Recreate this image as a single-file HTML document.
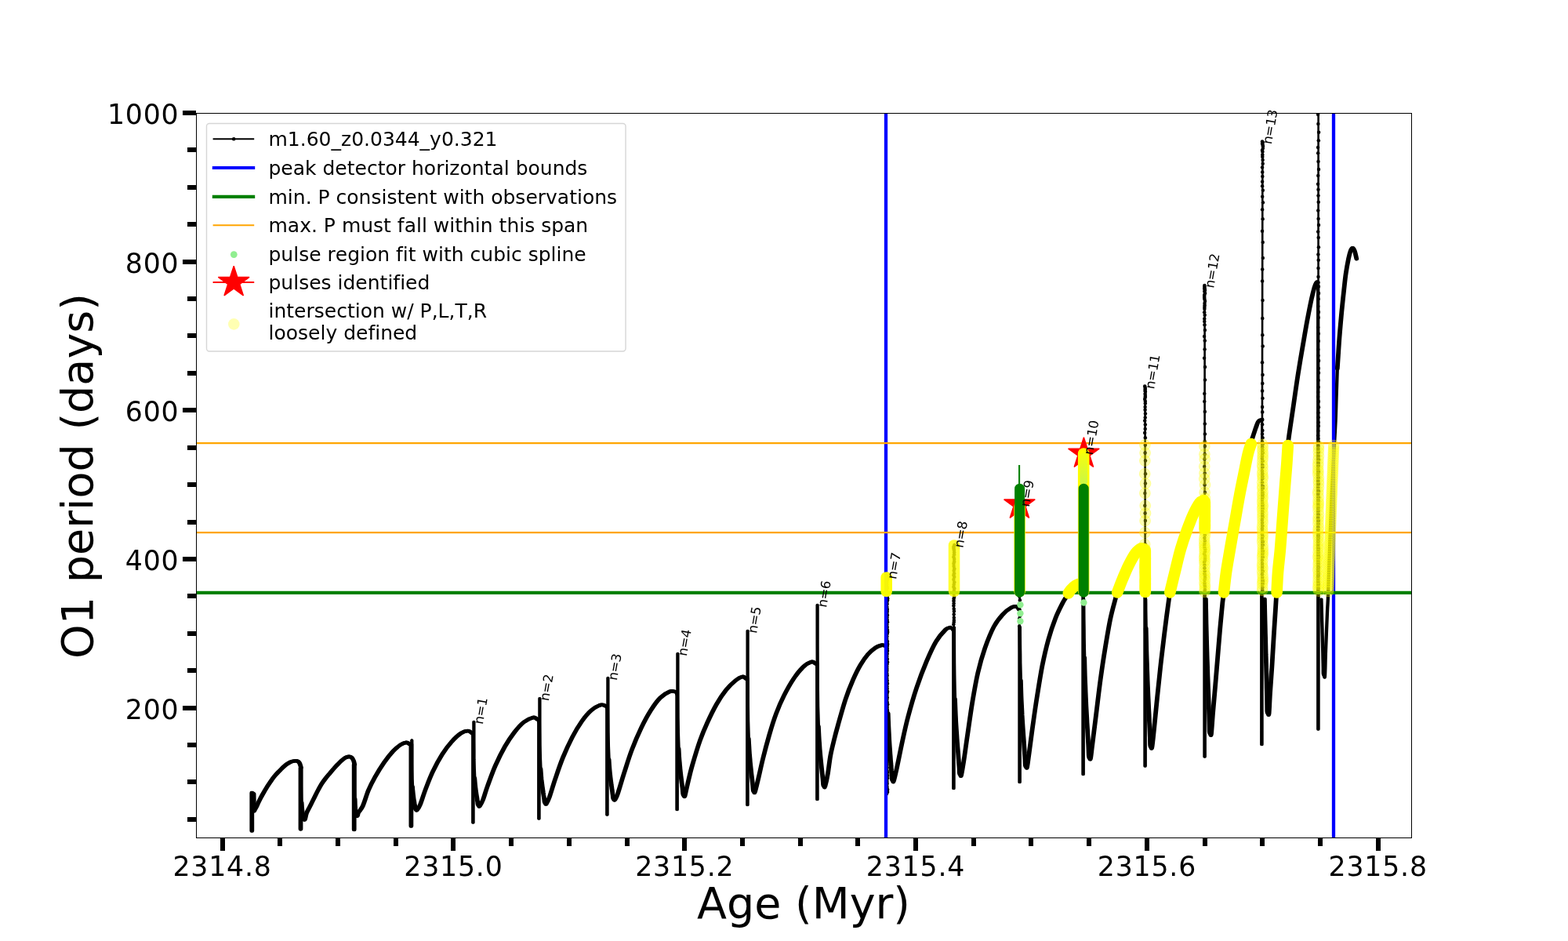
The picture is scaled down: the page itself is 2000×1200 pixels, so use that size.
<!DOCTYPE html>
<html lang="en"><head><meta charset="utf-8"><title>O1 period vs Age</title>
<style>html,body{margin:0;padding:0;background:#fff}body{width:2000px;height:1200px;overflow:hidden}svg{display:block}text{font-family:"DejaVu Sans","Liberation Sans",sans-serif;fill:#000;font-variant-ligatures:none;font-kerning:none}</style></head><body>
<svg width="2000" height="1200" viewBox="0 0 2000 1200">
<rect width="2000" height="1200" fill="#fff"/>
<defs><clipPath id="ax"><rect x="250" y="144" width="1550" height="924"/></clipPath>
<polygon id="star" points="0.00,-20.83 4.68,-6.44 19.81,-6.44 7.57,2.46 12.24,16.85 0.00,7.96 -12.24,16.85 -7.57,2.46 -19.81,-6.44 -4.68,-6.44" fill="#f00" stroke="#f00" stroke-width="1.39" stroke-linejoin="bevel"/>
<linearGradient id="lg" x1="0" y1="0" x2="0" y2="1"><stop offset="0" stop-color="#90ee90" stop-opacity="0.08"/><stop offset="1" stop-color="#90ee90" stop-opacity="0.5"/></linearGradient>
</defs>
<g clip-path="url(#ax)">
<g fill="none" stroke="#000" stroke-linejoin="round" stroke-linecap="round">
<path stroke-width="2.6" d="M384 979L383.5 985L383.5 1057.3L384.2 980M452.3 975L451.7 981L451.7 1058L452.4 975M522.4 948.9L524.4 954.9L524.4 1053.5L525.3 943.5M602 935L603.4 941L603.4 1049L604.4 920M685 917L687.4 923L687.4 1044L688.4 890.2M772 900L774.4 906L774.4 1039L775.4 864M861 882L863.6 888L863.6 1032.4L864.4 833M951 865L953.4 871L953.4 1026.4L953.6 804M1040 846L1042.4 852L1042.4 1019.4L1042.6 771M1128 823.2L1131.8 829.2L1131.8 1013L1131.7 735M1212 800.3L1216.4 806.3L1216.4 1005.4L1216.8 695M1299.6 777L1300.6 783L1300.6 997.5L1300.6 643.5M1380.5 746L1381.6 752L1381.6 987.4L1382 578.5M1459 700L1460.6 706L1460.6 977L1460.6 492.6M1535 637L1536.6 643L1536.6 965L1536.6 363.9M1609.5 535.5L1609.4 541.5L1609.4 949.6L1610.4 180.4M1681 360.3L1681.4 366.3L1681.4 930L1681.6 120"/>
<g id="tk" transform="translate(-0.55 0)"><path stroke-width="4.7" d="M321.3 1059.5L321.3 1011L323.6 1012.5L324 1033M324.3 1034C324.5 1033.7 324.9 1032.8 325.3 1032C325.8 1031.2 326.2 1030.6 327 1029C327.8 1027.4 328.7 1025.2 330 1022.5C331.3 1019.8 333.3 1016 335 1013C336.7 1010 338.3 1007.2 340 1004.5C341.7 1001.8 343.3 999.2 345 996.8C346.7 994.4 348.3 992 350 990C351.7 988 353.3 986.2 355 984.5C356.7 982.8 358.3 981.1 360 979.5C361.7 977.9 363.3 976.2 365 975C366.7 973.8 368.3 972.8 370 972C371.7 971.2 373.5 970.8 375 970.5C376.5 970.2 377.8 970.1 379 970.5C380.2 970.9 381.2 971.6 382 973C382.8 974.4 383.7 978 384 979M383.5 979L383.5 1057.3M384.6 1023.5C384.7 1024.1 384.8 1026.1 384.9 1027.1C384.9 1028 385 1028.6 385 1029.3C385.1 1030 385.1 1030.6 385.2 1031.2C385.3 1031.8 385.3 1032.3 385.4 1032.9C385.4 1033.4 385.5 1034 385.6 1034.5C385.6 1035 385.7 1035.5 385.7 1035.9C385.8 1036.4 385.9 1036.9 385.9 1037.4C386 1037.8 386 1038.3 386.1 1038.7C386.2 1039.2 386.2 1039.6 386.3 1040C386.3 1040.4 386.4 1040.9 386.4 1041.3C386.5 1041.7 386.4 1041.9 386.6 1042.5C386.8 1043.1 387.3 1044.3 387.7 1044.7C388.1 1045.1 388.4 1046 389 1044.7C389.6 1043.4 390 1039.6 391 1037C392 1034.4 393.5 1032 395 1029C396.5 1026 398.3 1022.3 400 1019C401.7 1015.7 403.3 1012.2 405 1009C406.7 1005.8 408.3 1002.7 410 1000C411.7 997.3 413.3 995.2 415 993C416.7 990.8 418.3 989 420 987C421.7 985 423.3 982.9 425 981C426.7 979.1 428.3 977.2 430 975.5C431.7 973.8 433.3 972 435 970.5C436.7 969 438.3 967.5 440 966.5C441.7 965.5 443.6 964.9 445 964.8C446.4 964.7 447.5 965.1 448.5 966C449.5 966.9 450.4 968.5 451 970C451.6 971.5 452.1 974.2 452.3 975M451.7 975L451.7 1058M452.6 1018.9C452.7 1019.5 452.7 1021.5 452.8 1022.5C452.8 1023.4 452.8 1024 452.8 1024.7C452.9 1025.4 452.9 1026 452.9 1026.6C453 1027.2 453 1027.7 453 1028.3C453.1 1028.9 453.1 1029.4 453.1 1029.9C453.2 1030.4 453.2 1030.9 453.2 1031.4C453.3 1031.9 453.3 1032.4 453.3 1032.8C453.4 1033.3 453.4 1033.7 453.4 1034.2C453.5 1034.6 453.5 1035.1 453.5 1035.5C453.5 1035.9 453.6 1036.3 453.6 1036.8C453.6 1037.2 453.5 1037.4 453.7 1038C453.9 1038.6 454.3 1039.8 454.7 1040.2C455.1 1040.6 455.6 1040.9 456 1040.2C456.4 1039.5 456.2 1038.1 457.3 1036C458.4 1033.9 460.8 1032.2 462.9 1027.5C465 1022.8 467.4 1013.8 470 1007.7C472.6 1001.6 475.2 996.6 478.5 990.7C481.8 984.8 486.1 977.7 489.9 972.3C493.7 966.9 497.7 961.9 501.2 958.1C504.7 954.3 508.3 951.5 511.1 949.6C513.9 947.7 516.3 946.9 518.2 946.8C520.1 946.7 521.7 948.5 522.4 948.9M524.4 948.9L524.4 1053.5M526.1 1003.5C526.1 1004.3 526.3 1007.1 526.5 1008.5C526.6 1009.9 526.7 1010.7 526.8 1011.7C526.9 1012.6 527 1013.5 527.1 1014.4C527.2 1015.2 527.3 1016 527.4 1016.8C527.5 1017.6 527.6 1018.3 527.7 1019C527.8 1019.8 527.9 1020.5 528.1 1021.2C528.2 1021.8 528.3 1022.5 528.4 1023.2C528.5 1023.8 528.6 1024.5 528.7 1025.1C528.8 1025.7 528.9 1026.3 529 1027C529.1 1027.6 529.2 1028.2 529.3 1028.8C529.4 1029.3 529.3 1029.8 529.6 1030.5C529.8 1031.2 530.3 1032.3 530.7 1032.7C531.1 1033.1 531.1 1033.8 532 1032.7C532.9 1031.6 534.2 1030.5 536 1026C537.8 1021.5 540.3 1013 543 1006C545.7 999 548.5 991.3 552 984C555.5 976.7 560 968.3 564 962C568 955.7 572 950.5 576 946C580 941.5 584.5 937.3 588 935C591.5 932.7 594.7 932 597 932C599.3 932 601.2 934.5 602 935M605.3 992.4C605.4 993.4 605.7 996.9 605.8 998.5C605.9 1000.2 606.1 1001.2 606.2 1002.4C606.3 1003.6 606.4 1004.7 606.6 1005.7C606.7 1006.8 606.8 1007.7 607 1008.7C607.1 1009.6 607.2 1010.6 607.4 1011.4C607.5 1012.3 607.6 1013.2 607.8 1014C607.9 1014.9 608 1015.7 608.2 1016.5C608.3 1017.3 608.4 1018.1 608.6 1018.9C608.7 1019.7 608.8 1020.4 608.9 1021.2C609.1 1021.9 609.2 1022.6 609.3 1023.4C609.4 1024.1 609.3 1024.8 609.6 1025.5C609.8 1026.2 610.3 1027.3 610.7 1027.7C611.1 1028.1 611.1 1029 612 1027.7C612.9 1026.4 614.3 1024.3 616 1020C617.7 1015.7 619.3 1009.3 622 1002C624.7 994.7 628.3 984.3 632 976C635.7 967.7 640 959 644 952C648 945 652 939.2 656 934C660 928.8 664 924.2 668 921C672 917.8 677.2 915.7 680 915C682.8 914.3 684.2 916.7 685 917M689.5 980.5C689.6 981.8 689.9 986.2 690.1 988.4C690.2 990.5 690.4 991.7 690.5 993.2C690.7 994.8 690.8 996.1 691 997.4C691.2 998.7 691.3 1000 691.5 1001.2C691.6 1002.4 691.8 1003.6 692 1004.7C692.1 1005.8 692.3 1006.9 692.4 1008C692.6 1009.1 692.8 1010.1 692.9 1011.1C693.1 1012.1 693.3 1013.1 693.4 1014.1C693.6 1015.1 693.7 1016.1 693.9 1017C694 1017.9 694.1 1018.9 694.3 1019.8C694.4 1020.7 694.4 1021.7 694.6 1022.5C694.8 1023.3 695.3 1024.3 695.7 1024.7C696.1 1025.1 696.1 1026.2 697 1024.7C697.9 1023.2 699.2 1021.1 701 1016C702.8 1010.9 705.2 1002.3 708 994C710.8 985.7 714.3 975 718 966C721.7 957 726 947.7 730 940C734 932.3 738 925.7 742 920C746 914.3 750 909.5 754 906C758 902.5 763 900 766 899C769 898 771 899.8 772 900M776.6 968.5C776.7 970 777 975.2 777.2 977.7C777.4 980.1 777.5 981.6 777.7 983.4C777.8 985.1 778 986.7 778.2 988.2C778.3 989.8 778.5 991.2 778.7 992.6C778.9 994.1 779 995.4 779.2 996.7C779.4 998 779.6 999.3 779.7 1000.6C779.9 1001.8 780.1 1003 780.3 1004.2C780.4 1005.4 780.6 1006.6 780.8 1007.7C780.9 1008.9 781.1 1010 781.2 1011.1C781.4 1012.2 781.5 1013.3 781.7 1014.3C781.8 1015.4 781.8 1016.6 782 1017.5C782.3 1018.4 782.7 1019.3 783.1 1019.7C783.5 1020.1 783.6 1021 784.4 1019.7C785.2 1018.4 786.1 1017.6 788 1012C789.9 1006.4 793 995.3 796 986C799 976.7 802.3 965.7 806 956C809.7 946.3 814 936.3 818 928C822 919.7 826 912.3 830 906C834 899.7 838 894 842 890C846 886 850.8 883.3 854 882C857.2 880.7 859.8 882 861 882M865.6 954.9C865.7 956.7 866 962.8 866.2 965.7C866.4 968.6 866.6 970.3 866.8 972.4C866.9 974.5 867.1 976.3 867.3 978.1C867.4 979.9 867.6 981.6 867.8 983.3C868 985 868.2 986.5 868.3 988.1C868.5 989.6 868.7 991.1 868.9 992.6C869.1 994.1 869.3 995.5 869.4 996.9C869.6 998.3 869.8 999.7 870 1001C870.1 1002.3 870.3 1003.7 870.5 1005C870.6 1006.3 870.8 1007.5 870.9 1008.8C871 1010 871 1011.5 871.3 1012.5C871.5 1013.5 871.9 1014.3 872.3 1014.7C872.7 1015.1 872.8 1017.2 873.6 1014.7C874.4 1012.2 875.4 1006.5 877 1000C878.6 993.5 880.3 985.3 883 976C885.7 966.7 889.8 953 893 944C896.2 935 898.5 929.7 902 922C905.5 914.3 910 905 914 898C918 891 922 885 926 880C930 875 934.5 870.8 938 868C941.5 865.2 944.8 863.5 947 863C949.2 862.5 950.3 864.7 951 865M954.8 942C954.9 944.1 955.3 950.9 955.5 954.2C955.7 957.6 955.8 959.5 956 961.9C956.2 964.2 956.4 966.3 956.6 968.4C956.7 970.5 956.9 972.4 957.1 974.3C957.3 976.2 957.5 978 957.7 979.7C957.9 981.5 958.1 983.2 958.2 984.9C958.4 986.5 958.6 988.1 958.8 989.7C959 991.3 959.2 992.9 959.4 994.4C959.5 995.9 959.7 997.4 959.9 998.9C960 1000.4 960.2 1001.8 960.3 1003.3C960.5 1004.7 960.4 1006.4 960.7 1007.5C960.9 1008.6 961.3 1009.3 961.7 1009.7C962.1 1010.1 962.1 1012.3 963 1009.7C963.9 1007.1 965.3 1001 967 994C968.7 987 970.7 977.3 973 968C975.3 958.7 978.2 947.7 981 938C983.8 928.3 986.8 918.5 990 910C993.2 901.5 996.3 894.3 1000 887C1003.7 879.7 1008 872 1012 866C1016 860 1020.2 854.7 1024 851C1027.8 847.3 1032.3 844.8 1035 844C1037.7 843.2 1039.2 845.7 1040 846M1043.9 926.4C1044 928.7 1044.4 936.5 1044.6 940.3C1044.8 944 1045 946.2 1045.2 948.9C1045.4 951.6 1045.5 953.9 1045.7 956.3C1045.9 958.6 1046.1 960.8 1046.3 962.9C1046.5 965.1 1046.7 967.1 1046.9 969.1C1047.1 971.1 1047.3 973 1047.5 974.9C1047.7 976.8 1047.9 978.6 1048.1 980.4C1048.3 982.2 1048.5 984 1048.7 985.7C1048.9 987.4 1049.1 989.1 1049.2 990.8C1049.4 992.5 1049.6 994.1 1049.7 995.7C1049.9 997.3 1049.9 999.3 1050.1 1000.5C1050.3 1001.7 1050.7 1002.3 1051.1 1002.7C1051.5 1003.1 1051.6 1005.5 1052.4 1002.7C1053.2 999.9 1054.9 992.5 1056 986C1057.1 979.5 1057.9 971.2 1059.2 964C1060.5 956.8 1062.4 949.5 1064 943C1065.6 936.5 1066.4 933.5 1068.8 925C1071.2 916.5 1075.2 901.7 1078.4 892C1081.6 882.3 1084.8 874.3 1088 867C1091.2 859.7 1094.3 853.4 1097.5 848C1100.7 842.6 1103.8 838.2 1107 834.5C1110.2 830.8 1113.8 828 1116.7 826C1119.6 824 1122.5 823.3 1124.4 822.8C1126.3 822.3 1127.4 823.1 1128 823.2M1132.7 909.9C1132.8 912.5 1133.1 921.3 1133.3 925.5C1133.5 929.7 1133.6 932.2 1133.8 935.2C1133.9 938.2 1134.1 940.9 1134.2 943.6C1134.4 946.2 1134.5 948.7 1134.7 951.1C1134.9 953.5 1135 955.8 1135.2 958C1135.3 960.3 1135.5 962.5 1135.7 964.6C1135.8 966.7 1136 968.8 1136.1 970.8C1136.3 972.9 1136.5 974.8 1136.6 976.8C1136.8 978.7 1136.9 980.7 1137 982.5C1137.2 984.4 1137.3 986.3 1137.4 988.1C1137.5 989.9 1137.5 992.2 1137.7 993.5C1137.9 994.8 1138.3 995.3 1138.7 995.7C1139.1 996.1 1139.1 998.5 1140 995.7C1140.9 992.9 1142.3 986.6 1144 979C1145.7 971.4 1147.7 960.7 1150 950C1152.3 939.3 1154.8 927.1 1158 915C1161.2 902.9 1165 889.5 1169 877.5C1173 865.5 1177.8 852.9 1182 843C1186.2 833.1 1190 824.7 1194 818C1198 811.3 1203 806 1206 803C1209 800 1211 800.8 1212 800.3M1218 891.6C1218.1 894.6 1218.5 904.5 1218.7 909.3C1218.9 914 1219.1 916.9 1219.2 920.3C1219.4 923.7 1219.6 926.7 1219.8 929.6C1220 932.6 1220.2 935.4 1220.4 938.1C1220.5 940.8 1220.7 943.4 1220.9 946C1221.1 948.5 1221.3 951 1221.5 953.4C1221.7 955.8 1221.9 958.1 1222.1 960.4C1222.3 962.7 1222.4 964.9 1222.6 967.1C1222.8 969.4 1223 971.5 1223.1 973.6C1223.3 975.8 1223.5 977.8 1223.6 979.9C1223.7 982 1223.7 984.6 1223.9 986C1224.1 987.4 1224.5 987.8 1224.9 988.2C1225.3 988.6 1225.5 991.2 1226.2 988.2C1226.9 985.2 1228 978.7 1229.3 970.5C1230.6 962.3 1231.9 951.8 1233.8 939C1235.7 926.2 1238.2 907.5 1240.5 894C1242.8 880.5 1244.7 869.2 1247.3 858C1249.9 846.8 1252.9 836.2 1256.3 826.5C1259.7 816.8 1263.8 806.6 1267.5 799.5C1271.2 792.4 1275 787.9 1278.8 783.8C1282.5 779.7 1287 776.5 1290 774.8C1293 773.1 1295.2 773.2 1296.8 773.6C1298.4 774 1299.1 776.4 1299.6 777M1301.9 867.9C1302 871.2 1302.3 882.6 1302.5 888C1302.7 893.5 1302.9 896.7 1303.1 900.6C1303.3 904.5 1303.5 908 1303.6 911.4C1303.8 914.8 1304 918 1304.2 921.1C1304.4 924.2 1304.6 927.2 1304.8 930.1C1305 933 1305.2 935.8 1305.4 938.6C1305.6 941.3 1305.8 944 1306 946.6C1306.2 949.2 1306.3 951.8 1306.5 954.3C1306.7 956.8 1306.9 959.3 1307 961.7C1307.2 964.2 1307.4 966.6 1307.5 968.9C1307.6 971.3 1307.6 974.4 1307.8 975.9C1308.1 977.4 1308.4 977.7 1308.8 978.1C1309.2 978.5 1309.5 980.9 1310.1 978.1C1310.7 975.3 1311.3 969.9 1312.5 961.5C1313.7 953.1 1315.3 939.8 1317 927.8C1318.7 915.8 1320.5 902.6 1322.6 889.5C1324.7 876.4 1327 861.4 1329.4 849C1331.9 836.6 1334.5 825.4 1337.3 815.3C1340.1 805.2 1343.3 796 1346.3 788.3C1349.3 780.6 1352.9 773.8 1355.3 769.1C1357.7 764.4 1359.1 763 1360.9 760.1C1362.7 757.2 1364.2 754.4 1366 752C1367.8 749.6 1370 747.3 1372 746C1374 744.7 1376.6 744 1378 744C1379.4 744 1380.1 745.7 1380.5 746M1383.2 838.9C1383.3 842.8 1383.6 856 1383.8 862.3C1384 868.7 1384.2 872.5 1384.4 877C1384.5 881.5 1384.7 885.5 1384.9 889.5C1385.1 893.5 1385.2 897.2 1385.4 900.8C1385.6 904.4 1385.8 907.9 1386 911.3C1386.2 914.7 1386.4 917.9 1386.5 921.1C1386.7 924.3 1386.9 927.4 1387.1 930.5C1387.3 933.6 1387.4 936.5 1387.6 939.5C1387.8 942.4 1388 945.3 1388.1 948.1C1388.3 951 1388.4 953.7 1388.5 956.5C1388.7 959.2 1388.6 962.9 1388.9 964.6C1389.1 966.3 1389.4 966.4 1389.8 966.8C1390.2 967.2 1390.5 969.9 1391.1 966.8C1391.7 963.7 1392.3 957.1 1393.5 948C1394.7 938.9 1396.3 925.5 1398 912C1399.7 898.5 1401.7 880.9 1403.6 867C1405.5 853.1 1407.2 841.5 1409.3 828.8C1411.4 816 1413.8 801.4 1416 790.5C1418.2 779.6 1421.3 769.2 1422.8 763.5C1424.3 757.8 1423.5 760.2 1425 756C1426.5 751.8 1429.5 744 1432 738C1434.5 732 1437.3 725.3 1440 720C1442.7 714.7 1445.5 709.5 1448 706C1450.5 702.5 1453.2 700 1455 699C1456.8 698 1458.3 699.8 1459 700M1461.7 801.1C1461.8 805.7 1462.2 821.4 1462.3 829C1462.5 836.5 1462.7 841 1462.9 846.4C1463 851.8 1463.2 856.5 1463.4 861.2C1463.5 866 1463.7 870.4 1463.9 874.7C1464.1 879 1464.2 883.1 1464.4 887.1C1464.6 891.1 1464.8 895 1465 898.8C1465.1 902.6 1465.3 906.3 1465.5 910C1465.7 913.6 1465.8 917.1 1466 920.6C1466.2 924.1 1466.3 927.5 1466.5 930.9C1466.6 934.3 1466.8 937.6 1466.9 940.9C1467 944.1 1467 948.5 1467.2 950.5C1467.4 952.5 1467.7 952.3 1468.1 952.7C1468.5 953.1 1468.8 956.5 1469.4 952.7C1470.1 948.9 1470.9 940.5 1472 930C1473.1 919.5 1474.7 903 1476 890C1477.3 877 1478.7 864 1480 852C1481.3 840 1482.7 829 1484 818C1485.3 807 1486.8 795 1488 786C1489.2 777 1490.3 769 1491 764C1491.7 759 1490.8 761.3 1492 756C1493.2 750.7 1495.7 741.3 1498 732C1500.3 722.7 1503.3 709.3 1506 700C1508.7 690.7 1511.3 683.3 1514 676C1516.7 668.7 1519.3 661.8 1522 656C1524.7 650.2 1527.8 644.2 1530 641C1532.2 637.8 1534.2 637.7 1535 637M1537.9 764C1538 769.3 1538.4 787.1 1538.5 795.6C1538.7 804.2 1538.9 809.3 1539 815.4C1539.2 821.5 1539.3 826.9 1539.5 832.3C1539.6 837.6 1539.8 842.6 1540 847.5C1540.1 852.4 1540.3 857 1540.4 861.6C1540.6 866.2 1540.8 870.6 1540.9 874.9C1541.1 879.2 1541.2 883.4 1541.4 887.5C1541.5 891.7 1541.7 895.7 1541.8 899.6C1541.9 903.6 1542.1 907.5 1542.2 911.3C1542.3 915.1 1542.4 918.9 1542.5 922.6C1542.6 926.3 1542.6 931.3 1542.8 933.5C1543 935.7 1543.3 935.3 1543.7 935.7C1544.1 936.1 1544.5 940 1545 935.7C1545.5 931.4 1546.2 920 1547 910C1547.8 900 1549 887.7 1550 876C1551 864.3 1552 852 1553 840C1554 828 1555 815.3 1556 804C1557 792.7 1558.3 779.3 1559 772C1559.7 764.7 1559.6 767 1560.4 760C1561.2 753 1562.6 740 1564 730C1565.4 720 1567.2 710.7 1569 700C1570.8 689.3 1573 677.3 1575 666C1577 654.7 1579 642.7 1581 632C1583 621.3 1585.2 611 1587 602C1588.8 593 1590.5 584.5 1592 578C1593.5 571.5 1595 566.5 1596 563C1597 559.5 1597 560 1598 557C1599 554 1600.9 548.1 1602 545C1603.1 541.9 1603.7 540 1604.5 538.5C1605.3 537 1606.2 536.5 1607 536C1607.8 535.5 1609.1 535.6 1609.5 535.5M1612.9 764C1613 768.5 1613.3 783.5 1613.5 790.8C1613.7 798 1613.8 802.3 1613.9 807.5C1614.1 812.7 1614.2 817.3 1614.3 821.8C1614.4 826.3 1614.5 830.5 1614.6 834.7C1614.8 838.8 1614.9 842.8 1615 846.6C1615.1 850.5 1615.2 854.2 1615.3 857.9C1615.4 861.5 1615.5 865.1 1615.6 868.6C1615.7 872.1 1615.7 875.5 1615.8 878.8C1615.9 882.2 1616 885.5 1616.1 888.7C1616.1 891.9 1616.2 895.1 1616.2 898.2C1616.3 901.4 1616.2 905.6 1616.4 907.5C1616.6 909.4 1616.9 909.3 1617.3 909.7C1617.7 910.1 1618.1 914 1618.6 909.7C1619 905.4 1619.4 894 1620 884C1620.6 874 1621.6 862.3 1622.4 850C1623.2 837.7 1624 822.3 1624.8 810C1625.6 797.7 1626.5 784.3 1627 776C1627.5 767.7 1627.5 767.7 1628 760C1628.5 752.3 1629.2 740 1630 730C1630.8 720 1632 711.7 1633 700C1634 688.3 1635 673.3 1636 660C1637 646.7 1638.1 631.7 1639 620C1639.9 608.3 1640.7 599.2 1641.4 590C1642.1 580.8 1642.2 572.8 1643 565C1643.8 557.2 1644.8 551.2 1646 543C1647.2 534.8 1648.4 527.1 1650 516C1651.6 504.9 1653.9 488.4 1655.8 476.4C1657.7 464.4 1659.2 455.4 1661.2 444C1663.2 432.6 1665.5 418.5 1667.5 408C1669.5 397.5 1671.4 387.9 1672.9 381C1674.4 374.1 1675.5 370.1 1676.5 366.6C1677.5 363.2 1678.5 361.4 1679.2 360.3C1680 359.2 1680.7 360.3 1681 360.3M1705.8 470C1706.2 464.4 1707.2 447.9 1708 436.7C1708.8 425.5 1709.8 414.1 1710.8 403C1711.8 391.9 1713.2 379.1 1714.2 370C1715.2 360.9 1715.7 355.3 1716.7 348.6C1717.7 341.9 1719 334.9 1720 330C1721 325.1 1721.9 321.8 1722.8 319.5C1723.7 317.2 1724.4 316.1 1725.3 316.3C1726.2 316.5 1727.2 318.2 1728 320.5C1728.8 322.8 1729.9 328.4 1730.3 330"/>
<path stroke-width="3.5" d="M603.4 935L603.4 1049M687.4 917L687.4 1044M774.4 900L774.4 1039M863.6 882L863.6 1032.4M953.4 865L953.4 1026.4M1042.4 846L1042.4 1019.4M1216.4 800.3L1216.4 1005.4M1300.6 800L1300.6 997.5M1381.6 760L1381.6 987.4M1460.6 756L1460.6 977M1536.6 756L1536.6 965M1609.4 756L1609.4 949.6M1681.4 756L1681.4 930"/>
<path stroke-width="3.2" d="M384.2 980.5L384.2 987.7L384.2 994.9L384.2 1002L384.3 1009.2L384.4 1016.4L384.6 1023.5M452.4 975.5L452.4 982.7L452.4 990L452.4 997.2L452.4 1004.4L452.5 1011.7L452.6 1018.9M525.3 944L525.3 953.9L525.3 963.8L525.3 973.7L525.4 983.6L525.6 993.6L526.1 1003.5M604.4 920.5L604.4 932.5L604.4 944.5L604.5 956.4L604.5 968.4L604.8 980.4L605.3 992.4M688.4 890.7L688.4 905.7L688.4 920.6L688.5 935.6L688.6 950.6L688.9 965.5L689.5 980.5M775.4 864.5L775.4 881.8L775.4 899.2L775.5 916.5L775.6 933.8L775.9 951.2L776.6 968.5M864.4 833.5L864.4 853.7L864.4 874L864.5 894.2L864.6 914.5L864.9 934.7L865.6 954.9M953.6 804.5L953.6 827.4L953.6 850.3L953.7 873.3L953.8 896.2L954.1 919.1L954.8 942M1042.6 771.5L1042.6 797.3L1042.6 823.1L1042.7 849L1042.8 874.8L1043.1 900.6L1043.9 926.4M1216.9 800L1216.9 815.3L1217 830.5L1217.1 845.8L1217.3 861.1L1217.6 876.4L1218 891.6M1300.8 800L1300.9 811.3L1301 822.6L1301.2 833.9L1301.3 845.3L1301.6 856.6L1301.9 867.9M1382.2 764L1382.3 776.5L1382.4 789L1382.6 801.4L1382.7 813.9L1382.9 826.4L1383.2 838.9M1461.2 764L1461.3 770.2L1461.3 776.4L1461.4 782.5L1461.5 788.7L1461.6 794.9L1461.7 801.1M1681.2 363L1681.3 756M1685.4 764C1685.5 767 1685.8 777 1685.9 781.8C1686 786.7 1686.1 789.5 1686.2 793C1686.3 796.4 1686.4 799.4 1686.5 802.5C1686.5 805.5 1686.6 808.3 1686.7 811C1686.8 813.8 1686.8 816.4 1686.9 819C1687 821.6 1687 824 1687.1 826.5C1687.2 828.9 1687.2 831.3 1687.3 833.6C1687.3 835.9 1687.4 838.2 1687.4 840.4C1687.5 842.6 1687.5 844.8 1687.6 847C1687.6 849.1 1687.7 851.3 1687.7 853.3C1687.7 855.4 1687.6 858.1 1687.8 859.5C1687.9 860.9 1688.3 861.3 1688.7 861.7C1689.1 862.1 1689.6 867 1690 861.7C1690.4 856.4 1690.5 843.6 1691 830C1691.5 816.4 1692.5 791.7 1693 780C1693.5 768.3 1693.5 773.3 1694 760C1694.5 746.7 1695.2 721.7 1696 700C1696.8 678.3 1697.7 651.7 1698.7 630C1699.7 608.3 1701 585.5 1701.8 570C1702.6 554.5 1703.1 547.9 1703.6 536.7C1704.1 525.5 1704.3 514.1 1704.7 503C1705.1 491.9 1705.6 475.5 1705.8 470"/></g>
<use href="#tk" x="1.1"/>
</g>
<g fill="#000"><circle cx="1131.5" cy="735" r="2.25"/><circle cx="1131.9" cy="737.4" r="2.25"/><circle cx="1131.7" cy="739.6" r="2.25"/><circle cx="1131.3" cy="742.4" r="2.25"/><circle cx="1131.2" cy="745.4" r="2.25"/><circle cx="1131.3" cy="748.3" r="2.25"/><circle cx="1131.6" cy="750.5" r="2.25"/><circle cx="1131.3" cy="754.1" r="2.25"/><circle cx="1131.8" cy="756.6" r="2.25"/><circle cx="1131.8" cy="760.4" r="2.25"/><circle cx="1132.2" cy="763.2" r="2.25"/><circle cx="1132.1" cy="765.4" r="2.25"/><circle cx="1131.3" cy="768" r="2.25"/><circle cx="1131.5" cy="770.3" r="2.25"/><circle cx="1131.4" cy="773.9" r="2.25"/><circle cx="1131.8" cy="777.1" r="2.25"/><circle cx="1131.7" cy="779.8" r="2.25"/><circle cx="1131.3" cy="782" r="2.25"/><circle cx="1131.9" cy="784.5" r="2.25"/><circle cx="1131.5" cy="787.4" r="2.25"/><circle cx="1131.7" cy="790.5" r="2.25"/><circle cx="1132" cy="793.2" r="2.25"/><circle cx="1131.4" cy="796.5" r="2.25"/><circle cx="1131.7" cy="799.7" r="2.25"/><circle cx="1131.9" cy="803.3" r="2.25"/><circle cx="1132.2" cy="806" r="2.25"/><circle cx="1131.6" cy="808.3" r="2.25"/><circle cx="1131.4" cy="811.7" r="2.25"/><circle cx="1131.2" cy="814.7" r="2.25"/><circle cx="1132" cy="818" r="2.25"/><circle cx="1132.1" cy="821.2" r="2.25"/><circle cx="1131.9" cy="823.8" r="2.25"/><circle cx="1131.8" cy="827" r="2.25"/><circle cx="1132" cy="829.9" r="2.25"/><circle cx="1131.7" cy="833.7" r="2.25"/><circle cx="1131.3" cy="837" r="2.25"/><circle cx="1131.8" cy="840.4" r="2.25"/><circle cx="1132" cy="844.3" r="2.25"/><circle cx="1131.6" cy="846.9" r="2.25"/><circle cx="1131.2" cy="850.2" r="2.25"/><circle cx="1131.4" cy="853.1" r="2.25"/><circle cx="1131.3" cy="855.4" r="2.25"/><circle cx="1131.3" cy="858.9" r="2.25"/><circle cx="1131.6" cy="861.4" r="2.25"/><circle cx="1131.3" cy="865.1" r="2.25"/><circle cx="1131.7" cy="868" r="2.25"/><circle cx="1132" cy="871.7" r="2.25"/><circle cx="1131.5" cy="875.4" r="2.25"/><circle cx="1131.6" cy="878.2" r="2.25"/><circle cx="1132.2" cy="881.9" r="2.25"/><circle cx="1131.4" cy="884.3" r="2.25"/><circle cx="1131.4" cy="886.8" r="2.25"/><circle cx="1131.8" cy="889.8" r="2.25"/><circle cx="1131.2" cy="892.3" r="2.25"/><circle cx="1131.6" cy="895.2" r="2.25"/><circle cx="1132.2" cy="898.3" r="2.25"/><circle cx="1131.7" cy="901.7" r="2.25"/><circle cx="1131.9" cy="904.9" r="2.25"/><circle cx="1132.1" cy="907.1" r="2.25"/><circle cx="1132.1" cy="910.6" r="2.25"/><circle cx="1131.6" cy="914.1" r="2.25"/><circle cx="1131.3" cy="916.9" r="2.25"/><circle cx="1131.3" cy="920.2" r="2.25"/><circle cx="1131.4" cy="922.4" r="2.25"/><circle cx="1131.5" cy="924.8" r="2.25"/><circle cx="1131.2" cy="927" r="2.25"/><circle cx="1131.3" cy="929.3" r="2.25"/><circle cx="1131.2" cy="932.1" r="2.25"/><circle cx="1131.8" cy="935.8" r="2.25"/><circle cx="1131.5" cy="938.1" r="2.25"/><circle cx="1131.6" cy="940.9" r="2.25"/><circle cx="1132" cy="943.2" r="2.25"/><circle cx="1131.7" cy="947.1" r="2.25"/><circle cx="1131.3" cy="950" r="2.25"/><circle cx="1131.5" cy="952.3" r="2.25"/><circle cx="1132" cy="954.9" r="2.25"/><circle cx="1131.2" cy="957.3" r="2.25"/><circle cx="1131.7" cy="961.1" r="2.25"/><circle cx="1131.7" cy="963.5" r="2.25"/><circle cx="1131.7" cy="965.6" r="2.25"/><circle cx="1132.1" cy="969.5" r="2.25"/><circle cx="1131.5" cy="972.8" r="2.25"/><circle cx="1131.4" cy="975.6" r="2.25"/><circle cx="1131.7" cy="979.1" r="2.25"/><circle cx="1131.5" cy="982.6" r="2.25"/><circle cx="1132" cy="985.1" r="2.25"/><circle cx="1132.1" cy="989" r="2.25"/><circle cx="1132" cy="992.5" r="2.25"/><circle cx="1131.4" cy="995.9" r="2.25"/><circle cx="1131.6" cy="999" r="2.25"/><circle cx="1131.2" cy="1001.1" r="2.25"/><circle cx="1131.5" cy="1003.7" r="2.25"/><circle cx="1132.2" cy="1007.1" r="2.25"/><circle cx="1132.1" cy="1010" r="2.25"/><circle cx="1217.3" cy="695" r="2.25"/><circle cx="1216.5" cy="697.3" r="2.25"/><circle cx="1216.5" cy="699.4" r="2.25"/><circle cx="1216.9" cy="701.5" r="2.25"/><circle cx="1217.1" cy="704.6" r="2.25"/><circle cx="1217" cy="707.2" r="2.25"/><circle cx="1216.4" cy="710.3" r="2.25"/><circle cx="1217.2" cy="713.1" r="2.25"/><circle cx="1217.1" cy="716.2" r="2.25"/><circle cx="1216.5" cy="718.8" r="2.25"/><circle cx="1216.6" cy="722" r="2.25"/><circle cx="1217.3" cy="725.2" r="2.25"/><circle cx="1216.7" cy="727.7" r="2.25"/><circle cx="1217" cy="731.2" r="2.25"/><circle cx="1216.4" cy="733.5" r="2.25"/><circle cx="1217.2" cy="735.7" r="2.25"/><circle cx="1216.4" cy="739" r="2.25"/><circle cx="1217.3" cy="742.4" r="2.25"/><circle cx="1216.7" cy="745.5" r="2.25"/><circle cx="1216.4" cy="748.5" r="2.25"/><circle cx="1217.3" cy="750.6" r="2.25"/><circle cx="1216.8" cy="753.8" r="2.25"/><circle cx="1216.7" cy="757.5" r="2.25"/><circle cx="1217.1" cy="761.1" r="2.25"/><circle cx="1216.6" cy="763.6" r="2.25"/><circle cx="1216.5" cy="766.3" r="2.25"/><circle cx="1216.6" cy="769.5" r="2.25"/><circle cx="1216.4" cy="772.5" r="2.25"/><circle cx="1216.7" cy="776.4" r="2.25"/><circle cx="1216.9" cy="779.5" r="2.25"/><circle cx="1216.7" cy="783.6" r="2.25"/><circle cx="1216.8" cy="787.7" r="2.25"/><circle cx="1216.8" cy="791.1" r="2.25"/><circle cx="1216.7" cy="793.5" r="2.25"/><circle cx="1216.3" cy="796.3" r="2.25"/><circle cx="1300.3" cy="643.5" r="2.25"/><circle cx="1300.8" cy="646.5" r="2.25"/><circle cx="1300.4" cy="649.6" r="2.25"/><circle cx="1300.7" cy="652.7" r="2.25"/><circle cx="1300.2" cy="656.2" r="2.25"/><circle cx="1300.3" cy="659.4" r="2.25"/><circle cx="1300.9" cy="662.1" r="2.25"/><circle cx="1300.7" cy="665.3" r="2.25"/><circle cx="1301" cy="668.9" r="2.25"/><circle cx="1300.7" cy="671.9" r="2.25"/><circle cx="1300.6" cy="675.1" r="2.25"/><circle cx="1300.6" cy="678.7" r="2.25"/><circle cx="1300.6" cy="682" r="2.25"/><circle cx="1300.8" cy="686.1" r="2.25"/><circle cx="1301" cy="690.1" r="2.25"/><circle cx="1300.7" cy="693" r="2.25"/><circle cx="1300.9" cy="697.2" r="2.25"/><circle cx="1300.2" cy="699.8" r="2.25"/><circle cx="1300.2" cy="703" r="2.25"/><circle cx="1300.2" cy="705.9" r="2.25"/><circle cx="1300.9" cy="709.6" r="2.25"/><circle cx="1300.3" cy="713.9" r="2.25"/><circle cx="1300.8" cy="717.8" r="2.25"/><circle cx="1301" cy="720.5" r="2.25"/><circle cx="1300.3" cy="725" r="2.25"/><circle cx="1300.5" cy="729.4" r="2.25"/><circle cx="1301.1" cy="733" r="2.25"/><circle cx="1300.3" cy="737.3" r="2.25"/><circle cx="1300.6" cy="740.7" r="2.25"/><circle cx="1300.3" cy="744" r="2.25"/><circle cx="1300.8" cy="747.2" r="2.25"/><circle cx="1300.7" cy="749.8" r="2.25"/><circle cx="1300.1" cy="753.4" r="2.25"/><circle cx="1300.7" cy="756.7" r="2.25"/><circle cx="1300.2" cy="760.5" r="2.25"/><circle cx="1300.9" cy="765.3" r="2.25"/><circle cx="1300.2" cy="770.2" r="2.25"/><circle cx="1300.1" cy="773.4" r="2.25"/><circle cx="1300.4" cy="777.9" r="2.25"/><circle cx="1300.5" cy="780.9" r="2.25"/><circle cx="1300.9" cy="785.7" r="2.25"/><circle cx="1300.2" cy="789.1" r="2.25"/><circle cx="1300.7" cy="794" r="2.25"/><circle cx="1300.2" cy="798.4" r="2.25"/><circle cx="1382.2" cy="578.5" r="2.25"/><circle cx="1381.6" cy="581.4" r="2.25"/><circle cx="1382.1" cy="585.2" r="2.25"/><circle cx="1381.6" cy="588.7" r="2.25"/><circle cx="1381.6" cy="592.3" r="2.25"/><circle cx="1382" cy="596" r="2.25"/><circle cx="1382.1" cy="598.7" r="2.25"/><circle cx="1381.8" cy="602.5" r="2.25"/><circle cx="1382" cy="604.8" r="2.25"/><circle cx="1381.6" cy="607.3" r="2.25"/><circle cx="1381.6" cy="609.7" r="2.25"/><circle cx="1381.8" cy="612.2" r="2.25"/><circle cx="1382.3" cy="614.8" r="2.25"/><circle cx="1382" cy="617.5" r="2.25"/><circle cx="1381.8" cy="619.9" r="2.25"/><circle cx="1381.8" cy="622" r="2.25"/><circle cx="1382.2" cy="624.1" r="2.25"/><circle cx="1381.7" cy="627.2" r="2.25"/><circle cx="1382.4" cy="630.2" r="2.25"/><circle cx="1382.3" cy="632.5" r="2.25"/><circle cx="1382" cy="635.4" r="2.25"/><circle cx="1381.9" cy="639" r="2.25"/><circle cx="1382.2" cy="642" r="2.25"/><circle cx="1381.8" cy="645.8" r="2.25"/><circle cx="1382.2" cy="649.4" r="2.25"/><circle cx="1381.9" cy="652.7" r="2.25"/><circle cx="1381.6" cy="655.4" r="2.25"/><circle cx="1381.6" cy="657.7" r="2.25"/><circle cx="1381.8" cy="661.2" r="2.25"/><circle cx="1381.6" cy="663.6" r="2.25"/><circle cx="1382.4" cy="667.2" r="2.25"/><circle cx="1381.8" cy="670.5" r="2.25"/><circle cx="1381.8" cy="673" r="2.25"/><circle cx="1381.7" cy="675.9" r="2.25"/><circle cx="1381.8" cy="678.9" r="2.25"/><circle cx="1382.5" cy="682.7" r="2.25"/><circle cx="1381.7" cy="685.8" r="2.25"/><circle cx="1381.8" cy="689.6" r="2.25"/><circle cx="1381.5" cy="692.3" r="2.25"/><circle cx="1382" cy="695.1" r="2.25"/><circle cx="1381.7" cy="698.1" r="2.25"/><circle cx="1381.5" cy="701.1" r="2.25"/><circle cx="1381.6" cy="703.7" r="2.25"/><circle cx="1381.5" cy="706.5" r="2.25"/><circle cx="1381.8" cy="708.7" r="2.25"/><circle cx="1382.1" cy="711.2" r="2.25"/><circle cx="1382.3" cy="714.3" r="2.25"/><circle cx="1382.2" cy="717.5" r="2.25"/><circle cx="1381.9" cy="721.2" r="2.25"/><circle cx="1382.5" cy="723.9" r="2.25"/><circle cx="1382.2" cy="726.3" r="2.25"/><circle cx="1381.5" cy="729.5" r="2.25"/><circle cx="1382.4" cy="733.1" r="2.25"/><circle cx="1382.2" cy="736.4" r="2.25"/><circle cx="1381.6" cy="739.9" r="2.25"/><circle cx="1382" cy="743" r="2.25"/><circle cx="1382.3" cy="746.6" r="2.25"/><circle cx="1382.1" cy="750.2" r="2.25"/><circle cx="1382.2" cy="753.9" r="2.25"/><circle cx="1381.7" cy="757.2" r="2.25"/><circle cx="1381.6" cy="759.4" r="2.25"/><circle cx="1460.2" cy="492.6" r="2.25"/><circle cx="1460.7" cy="494.4" r="2.25"/><circle cx="1460.7" cy="496.2" r="2.25"/><circle cx="1460.6" cy="498.3" r="2.25"/><circle cx="1460.9" cy="499.7" r="2.25"/><circle cx="1460.6" cy="502.2" r="2.25"/><circle cx="1460.8" cy="504.7" r="2.25"/><circle cx="1460.8" cy="506.6" r="2.25"/><circle cx="1460.2" cy="509" r="2.25"/><circle cx="1460.8" cy="511.7" r="2.25"/><circle cx="1460.8" cy="514.4" r="2.25"/><circle cx="1460.6" cy="519" r="2.25"/><circle cx="1460.6" cy="522.7" r="2.25"/><circle cx="1460.9" cy="527.5" r="2.25"/><circle cx="1460.7" cy="532.6" r="2.25"/><circle cx="1460.2" cy="536.5" r="2.25"/><circle cx="1460.8" cy="541.4" r="2.25"/><circle cx="1460.7" cy="547" r="2.25"/><circle cx="1460.2" cy="551.9" r="2.25"/><circle cx="1460.8" cy="558.3" r="2.25"/><circle cx="1460.8" cy="567.5" r="2.25"/><circle cx="1460.6" cy="577.6" r="2.25"/><circle cx="1461" cy="587.6" r="2.25"/><circle cx="1461" cy="604.2" r="2.25"/><circle cx="1460.9" cy="616.6" r="2.25"/><circle cx="1460.4" cy="628.9" r="2.25"/><circle cx="1460.3" cy="644.8" r="2.25"/><circle cx="1460.6" cy="654.5" r="2.25"/><circle cx="1460.9" cy="664.1" r="2.25"/><circle cx="1460.8" cy="679.2" r="2.25"/><circle cx="1460.6" cy="694.1" r="2.25"/><circle cx="1460.6" cy="700" r="2.25"/><circle cx="1460.2" cy="702.6" r="2.25"/><circle cx="1460.9" cy="705.3" r="2.25"/><circle cx="1460.9" cy="708.8" r="2.25"/><circle cx="1460.8" cy="712.5" r="2.25"/><circle cx="1460.5" cy="715.1" r="2.25"/><circle cx="1460.7" cy="719" r="2.25"/><circle cx="1460.4" cy="721.9" r="2.25"/><circle cx="1460.9" cy="724.2" r="2.25"/><circle cx="1460.3" cy="728" r="2.25"/><circle cx="1460.3" cy="731" r="2.25"/><circle cx="1461" cy="734.8" r="2.25"/><circle cx="1461" cy="738.1" r="2.25"/><circle cx="1460.8" cy="741.1" r="2.25"/><circle cx="1460.6" cy="744.6" r="2.25"/><circle cx="1460.4" cy="747.8" r="2.25"/><circle cx="1460.2" cy="751.6" r="2.25"/><circle cx="1460.4" cy="754.3" r="2.25"/><circle cx="1536.4" cy="363.9" r="2.25"/><circle cx="1536.4" cy="365.5" r="2.25"/><circle cx="1536.5" cy="367.2" r="2.25"/><circle cx="1536.3" cy="368.5" r="2.25"/><circle cx="1537" cy="369.9" r="2.25"/><circle cx="1536.3" cy="371.7" r="2.25"/><circle cx="1537.1" cy="374" r="2.25"/><circle cx="1536.2" cy="375.9" r="2.25"/><circle cx="1536.2" cy="377.6" r="2.25"/><circle cx="1536.2" cy="379.5" r="2.25"/><circle cx="1536.4" cy="381.4" r="2.25"/><circle cx="1537" cy="383.9" r="2.25"/><circle cx="1536.5" cy="386.7" r="2.25"/><circle cx="1536.6" cy="389.2" r="2.25"/><circle cx="1536.4" cy="391.8" r="2.25"/><circle cx="1536.4" cy="394" r="2.25"/><circle cx="1536.2" cy="398.2" r="2.25"/><circle cx="1536.7" cy="401.7" r="2.25"/><circle cx="1536.3" cy="406.4" r="2.25"/><circle cx="1536.3" cy="410" r="2.25"/><circle cx="1536.5" cy="414.3" r="2.25"/><circle cx="1536.9" cy="421" r="2.25"/><circle cx="1536.1" cy="428.9" r="2.25"/><circle cx="1536.8" cy="434.6" r="2.25"/><circle cx="1536.6" cy="445.6" r="2.25"/><circle cx="1536.1" cy="456.7" r="2.25"/><circle cx="1537" cy="468" r="2.25"/><circle cx="1537" cy="484.4" r="2.25"/><circle cx="1536.3" cy="501.9" r="2.25"/><circle cx="1536.3" cy="511.9" r="2.25"/><circle cx="1536.8" cy="524.9" r="2.25"/><circle cx="1536.8" cy="540.6" r="2.25"/><circle cx="1536.9" cy="553.5" r="2.25"/><circle cx="1536.7" cy="563.1" r="2.25"/><circle cx="1536.9" cy="569.1" r="2.25"/><circle cx="1536.7" cy="579.2" r="2.25"/><circle cx="1536.4" cy="585.6" r="2.25"/><circle cx="1536.2" cy="594.9" r="2.25"/><circle cx="1536.7" cy="603.5" r="2.25"/><circle cx="1536.7" cy="610.7" r="2.25"/><circle cx="1536.6" cy="618.3" r="2.25"/><circle cx="1537" cy="627.9" r="2.25"/><circle cx="1536.3" cy="635.5" r="2.25"/><circle cx="1536.4" cy="640.3" r="2.25"/><circle cx="1536.8" cy="643.3" r="2.25"/><circle cx="1536.8" cy="645.9" r="2.25"/><circle cx="1536.1" cy="648.4" r="2.25"/><circle cx="1536.8" cy="651.2" r="2.25"/><circle cx="1536.8" cy="654.8" r="2.25"/><circle cx="1537.1" cy="657.2" r="2.25"/><circle cx="1536.3" cy="660.8" r="2.25"/><circle cx="1536.4" cy="664.3" r="2.25"/><circle cx="1536.3" cy="667.3" r="2.25"/><circle cx="1536.8" cy="670.1" r="2.25"/><circle cx="1536.5" cy="672.5" r="2.25"/><circle cx="1536.2" cy="676.3" r="2.25"/><circle cx="1536.5" cy="678.6" r="2.25"/><circle cx="1536.8" cy="682.2" r="2.25"/><circle cx="1536.4" cy="686" r="2.25"/><circle cx="1536.8" cy="689.8" r="2.25"/><circle cx="1536.5" cy="693.1" r="2.25"/><circle cx="1536.3" cy="695.8" r="2.25"/><circle cx="1536.5" cy="698.4" r="2.25"/><circle cx="1537.1" cy="700.7" r="2.25"/><circle cx="1536.9" cy="703.5" r="2.25"/><circle cx="1536.1" cy="706.3" r="2.25"/><circle cx="1537" cy="709.1" r="2.25"/><circle cx="1537" cy="711.9" r="2.25"/><circle cx="1536.9" cy="714.7" r="2.25"/><circle cx="1536.1" cy="716.9" r="2.25"/><circle cx="1536.4" cy="720.6" r="2.25"/><circle cx="1536.4" cy="724.4" r="2.25"/><circle cx="1536.7" cy="728.2" r="2.25"/><circle cx="1536.4" cy="731.6" r="2.25"/><circle cx="1536.9" cy="733.7" r="2.25"/><circle cx="1537" cy="736.9" r="2.25"/><circle cx="1536.6" cy="739.4" r="2.25"/><circle cx="1536.5" cy="743.3" r="2.25"/><circle cx="1536.6" cy="746.1" r="2.25"/><circle cx="1536.9" cy="748.6" r="2.25"/><circle cx="1536.9" cy="752.1" r="2.25"/><circle cx="1536.4" cy="754.8" r="2.25"/><circle cx="1610" cy="180.4" r="2.25"/><circle cx="1610.7" cy="181.7" r="2.25"/><circle cx="1610" cy="183.1" r="2.25"/><circle cx="1610.5" cy="184.5" r="2.25"/><circle cx="1610.9" cy="186.3" r="2.25"/><circle cx="1610.9" cy="189.1" r="2.25"/><circle cx="1610" cy="191.4" r="2.25"/><circle cx="1610.4" cy="193.6" r="2.25"/><circle cx="1610.3" cy="197.2" r="2.25"/><circle cx="1610.3" cy="200.1" r="2.25"/><circle cx="1610.6" cy="204" r="2.25"/><circle cx="1610.7" cy="208.7" r="2.25"/><circle cx="1610" cy="213.6" r="2.25"/><circle cx="1610.2" cy="219.4" r="2.25"/><circle cx="1610.3" cy="225.1" r="2.25"/><circle cx="1610.1" cy="231.8" r="2.25"/><circle cx="1610.1" cy="237.3" r="2.25"/><circle cx="1610.8" cy="242.8" r="2.25"/><circle cx="1610.2" cy="250.7" r="2.25"/><circle cx="1610.9" cy="258.3" r="2.25"/><circle cx="1610.1" cy="267.2" r="2.25"/><circle cx="1610.6" cy="279.2" r="2.25"/><circle cx="1610" cy="294.8" r="2.25"/><circle cx="1610.7" cy="309" r="2.25"/><circle cx="1610.8" cy="329.1" r="2.25"/><circle cx="1610.2" cy="343.5" r="2.25"/><circle cx="1610.1" cy="358.6" r="2.25"/><circle cx="1610.5" cy="383.1" r="2.25"/><circle cx="1610.3" cy="406" r="2.25"/><circle cx="1610.3" cy="427.3" r="2.25"/><circle cx="1610.7" cy="441.6" r="2.25"/><circle cx="1610" cy="462.3" r="2.25"/><circle cx="1610.5" cy="477.9" r="2.25"/><circle cx="1610.3" cy="488.9" r="2.25"/><circle cx="1610.1" cy="498.4" r="2.25"/><circle cx="1610.5" cy="507.9" r="2.25"/><circle cx="1610.1" cy="519" r="2.25"/><circle cx="1610.2" cy="525.5" r="2.25"/><circle cx="1610.1" cy="534.8" r="2.25"/><circle cx="1610.1" cy="541.3" r="2.25"/><circle cx="1610.4" cy="549.1" r="2.25"/><circle cx="1610" cy="553.4" r="2.25"/><circle cx="1610.5" cy="558.3" r="2.25"/><circle cx="1610" cy="563.5" r="2.25"/><circle cx="1610.6" cy="566.8" r="2.25"/><circle cx="1610.2" cy="570.3" r="2.25"/><circle cx="1610.5" cy="573.8" r="2.25"/><circle cx="1610.8" cy="577.6" r="2.25"/><circle cx="1610.1" cy="581.2" r="2.25"/><circle cx="1609.9" cy="584.4" r="2.25"/><circle cx="1610.7" cy="588.1" r="2.25"/><circle cx="1610.4" cy="592.9" r="2.25"/><circle cx="1610.5" cy="595.7" r="2.25"/><circle cx="1610" cy="600.5" r="2.25"/><circle cx="1610.4" cy="604.1" r="2.25"/><circle cx="1610.4" cy="607.4" r="2.25"/><circle cx="1610.4" cy="610.3" r="2.25"/><circle cx="1610.1" cy="615.2" r="2.25"/><circle cx="1610.9" cy="620" r="2.25"/><circle cx="1610.8" cy="622.8" r="2.25"/><circle cx="1610.5" cy="627.4" r="2.25"/><circle cx="1610.7" cy="630.4" r="2.25"/><circle cx="1610.7" cy="633.9" r="2.25"/><circle cx="1610.1" cy="636.9" r="2.25"/><circle cx="1610.3" cy="640.7" r="2.25"/><circle cx="1610.6" cy="643.8" r="2.25"/><circle cx="1610.5" cy="646.5" r="2.25"/><circle cx="1610.7" cy="649.1" r="2.25"/><circle cx="1610.5" cy="653" r="2.25"/><circle cx="1610.3" cy="656.2" r="2.25"/><circle cx="1610.6" cy="659.6" r="2.25"/><circle cx="1609.9" cy="663.1" r="2.25"/><circle cx="1610.1" cy="666.7" r="2.25"/><circle cx="1610.4" cy="670.8" r="2.25"/><circle cx="1610" cy="674.3" r="2.25"/><circle cx="1610" cy="677.7" r="2.25"/><circle cx="1609.9" cy="681.3" r="2.25"/><circle cx="1610.6" cy="683.9" r="2.25"/><circle cx="1610" cy="687.4" r="2.25"/><circle cx="1610.9" cy="690.7" r="2.25"/><circle cx="1610.9" cy="694.9" r="2.25"/><circle cx="1610.1" cy="699" r="2.25"/><circle cx="1610.9" cy="702.4" r="2.25"/><circle cx="1610.7" cy="705.2" r="2.25"/><circle cx="1610.3" cy="707.7" r="2.25"/><circle cx="1610.8" cy="710.4" r="2.25"/><circle cx="1610" cy="714.4" r="2.25"/><circle cx="1610.1" cy="718.7" r="2.25"/><circle cx="1610.2" cy="722" r="2.25"/><circle cx="1610.1" cy="724.7" r="2.25"/><circle cx="1610.8" cy="728.4" r="2.25"/><circle cx="1610" cy="732.3" r="2.25"/><circle cx="1610.3" cy="735.9" r="2.25"/><circle cx="1610.5" cy="739.3" r="2.25"/><circle cx="1610.9" cy="741.8" r="2.25"/><circle cx="1610.7" cy="744.8" r="2.25"/><circle cx="1610.5" cy="749" r="2.25"/><circle cx="1610.3" cy="752.8" r="2.25"/><circle cx="1681.1" cy="146" r="2.25"/><circle cx="1681.4" cy="157.9" r="2.25"/><circle cx="1682.1" cy="168.8" r="2.25"/><circle cx="1681.8" cy="179.3" r="2.25"/><circle cx="1681.1" cy="188.1" r="2.25"/><circle cx="1681.2" cy="195.3" r="2.25"/><circle cx="1681.5" cy="206" r="2.25"/><circle cx="1682" cy="216.1" r="2.25"/><circle cx="1681.3" cy="223.9" r="2.25"/><circle cx="1681.1" cy="234.8" r="2.25"/><circle cx="1681.5" cy="241.8" r="2.25"/><circle cx="1681.5" cy="249.5" r="2.25"/><circle cx="1681.7" cy="257.8" r="2.25"/><circle cx="1681.3" cy="268.4" r="2.25"/><circle cx="1681.6" cy="279.1" r="2.25"/><circle cx="1682" cy="286.9" r="2.25"/><circle cx="1681.2" cy="295.4" r="2.25"/><circle cx="1681.7" cy="303" r="2.25"/><circle cx="1681.9" cy="315.2" r="2.25"/><circle cx="1681.4" cy="324.6" r="2.25"/><circle cx="1681.7" cy="331.7" r="2.25"/><circle cx="1681.5" cy="342" r="2.25"/><circle cx="1681.5" cy="352.9" r="2.25"/><circle cx="1681.8" cy="365.5" r="2.25"/><circle cx="1682" cy="374" r="2.25"/><circle cx="1681.6" cy="381.3" r="2.25"/><circle cx="1681.3" cy="390.7" r="2.25"/><circle cx="1681.9" cy="398.1" r="2.25"/><circle cx="1681.7" cy="405.1" r="2.25"/><circle cx="1681.2" cy="417.6" r="2.25"/><circle cx="1681.7" cy="425.5" r="2.25"/><circle cx="1681.7" cy="434.9" r="2.25"/><circle cx="1681.3" cy="445.7" r="2.25"/><circle cx="1681.4" cy="453.6" r="2.25"/><circle cx="1682" cy="459.9" r="2.25"/><circle cx="1681.8" cy="469.8" r="2.25"/><circle cx="1681.9" cy="475.6" r="2.25"/><circle cx="1681.6" cy="484.9" r="2.25"/><circle cx="1681.6" cy="493.8" r="2.25"/><circle cx="1681.2" cy="500" r="2.25"/><circle cx="1681.1" cy="505.9" r="2.25"/><circle cx="1681.8" cy="512" r="2.25"/><circle cx="1681.9" cy="519.3" r="2.25"/><circle cx="1681.4" cy="526.2" r="2.25"/><circle cx="1681.5" cy="532.2" r="2.25"/><circle cx="1681.6" cy="538.7" r="2.25"/><circle cx="1681.7" cy="543.2" r="2.25"/><circle cx="1681.3" cy="549.6" r="2.25"/><circle cx="1681.1" cy="555.4" r="2.25"/><circle cx="1681.3" cy="559.2" r="2.25"/><circle cx="1682" cy="564.1" r="2.25"/><circle cx="1681.4" cy="568.8" r="2.25"/><circle cx="1681.3" cy="572.4" r="2.25"/><circle cx="1681.8" cy="576.6" r="2.25"/><circle cx="1681.6" cy="581.7" r="2.25"/><circle cx="1682" cy="586.2" r="2.25"/><circle cx="1681.7" cy="590.6" r="2.25"/><circle cx="1681.7" cy="593.9" r="2.25"/><circle cx="1681.2" cy="598.7" r="2.25"/><circle cx="1682" cy="601.7" r="2.25"/><circle cx="1681.1" cy="604.8" r="2.25"/><circle cx="1681.7" cy="609.1" r="2.25"/><circle cx="1681.2" cy="613.5" r="2.25"/><circle cx="1681.9" cy="617" r="2.25"/><circle cx="1681.2" cy="621.8" r="2.25"/><circle cx="1682" cy="626.5" r="2.25"/><circle cx="1681.2" cy="629.7" r="2.25"/><circle cx="1681.9" cy="634.3" r="2.25"/><circle cx="1681.7" cy="638.8" r="2.25"/><circle cx="1681.2" cy="641.7" r="2.25"/><circle cx="1681.4" cy="644.7" r="2.25"/><circle cx="1681.4" cy="647.4" r="2.25"/><circle cx="1681.5" cy="651.6" r="2.25"/><circle cx="1681.6" cy="656.4" r="2.25"/><circle cx="1681.1" cy="660.4" r="2.25"/><circle cx="1681.9" cy="663.9" r="2.25"/><circle cx="1681.6" cy="668.1" r="2.25"/><circle cx="1681.2" cy="672.6" r="2.25"/><circle cx="1681.1" cy="675.5" r="2.25"/><circle cx="1682.1" cy="679.7" r="2.25"/><circle cx="1681.6" cy="683.3" r="2.25"/><circle cx="1681.6" cy="686.3" r="2.25"/><circle cx="1681.4" cy="690.6" r="2.25"/><circle cx="1681.3" cy="693.8" r="2.25"/><circle cx="1681.2" cy="697.4" r="2.25"/><circle cx="1681.9" cy="700" r="2.25"/><circle cx="1681.7" cy="704.2" r="2.25"/><circle cx="1681.5" cy="707.6" r="2.25"/><circle cx="1682" cy="710.3" r="2.25"/><circle cx="1681.4" cy="713.2" r="2.25"/><circle cx="1681.5" cy="716.7" r="2.25"/><circle cx="1681.6" cy="719.7" r="2.25"/><circle cx="1681.9" cy="723.7" r="2.25"/><circle cx="1681.4" cy="726.9" r="2.25"/><circle cx="1681.8" cy="731.1" r="2.25"/><circle cx="1681.5" cy="733.9" r="2.25"/><circle cx="1681.2" cy="737.5" r="2.25"/><circle cx="1681.3" cy="741.8" r="2.25"/><circle cx="1681.8" cy="744.8" r="2.25"/><circle cx="1681.3" cy="747.5" r="2.25"/><circle cx="1681.6" cy="750.6" r="2.25"/><circle cx="1681.3" cy="753.7" r="2.25"/></g>
<g fill="none">
<path stroke="#00f" stroke-width="4.3" d="M1130 144V1068M1701 144V1068"/>
<path stroke="#008000" stroke-width="4.3" d="M250 755.9H1800"/>
<path stroke="#ffa500" stroke-width="2.1" d="M250 565.1H1800M250 679.1H1800"/>
</g>
<use href="#star" x="1300.4" y="643.5"/><use href="#star" x="1382.4" y="578.6"/>
<g fill="none" stroke="#ff0" stroke-width="14.6" stroke-linecap="round" stroke-linejoin="round">
<path d="M1130.7 736.5V754" stroke-opacity="0.96"/>
<path d="M1217 695.5V754" stroke-opacity="0.8"/>
<path d="M1300.6 646V754"/>
<path d="M1382.2 578.5V754"/>
<path d="M1460.8 702V755"/>
<path d="M1536.8 640V674"/>
<path d="M1362.8 756.5C1363.3 755.8 1364.5 753.7 1366 752C1367.5 750.3 1370 747.8 1372 746.5C1374 745.2 1376.5 744.6 1378 744.5C1379.5 744.4 1380.5 745.8 1381 746M1425.2 755.5C1426.3 752.6 1429.5 743.9 1432 738C1434.5 732.1 1437.3 725.3 1440 720C1442.7 714.7 1445.5 709.4 1448 706C1450.5 702.6 1453.1 700.4 1455 699.5C1456.9 698.6 1458.8 700.3 1459.5 700.5M1492.3 755.5C1493.2 751.6 1495.7 741.2 1498 732C1500.3 722.8 1503.3 709.3 1506 700C1508.7 690.7 1511.3 683.3 1514 676C1516.7 668.7 1519.3 661.8 1522 656C1524.7 650.2 1527.8 644.5 1530 641.5C1532.2 638.5 1534.6 638.6 1535.5 638M1561 755.5C1561.5 751.2 1562.7 739.2 1564 730C1565.3 720.8 1567.2 710.7 1569 700C1570.8 689.3 1573 677.3 1575 666C1577 654.7 1579 642.7 1581 632C1583 621.3 1585.2 611 1587 602C1588.8 593 1590.5 584 1592 578C1593.5 572 1595.2 568 1595.8 566M1628.6 755.5C1628.8 751.2 1629.3 739.2 1630 730C1630.7 720.8 1632 711.7 1633 700C1634 688.3 1635 673.3 1636 660C1637 646.7 1638.1 631.7 1639 620C1639.9 608.3 1640.8 598.7 1641.4 590C1642 581.3 1642.6 571.7 1642.8 568"/>
</g>
<g fill="#ff0" fill-opacity="0.3" stroke="#ff0" stroke-opacity="0.3" stroke-width="1"><circle cx="1460.4" cy="567.5" r="6.9"/><circle cx="1460.6" cy="577.6" r="6.9"/><circle cx="1460.4" cy="587.6" r="6.9"/><circle cx="1460.2" cy="604.2" r="6.9"/><circle cx="1461" cy="616.6" r="6.9"/><circle cx="1460.4" cy="628.9" r="6.9"/><circle cx="1460.7" cy="644.8" r="6.9"/><circle cx="1461" cy="654.5" r="6.9"/><circle cx="1460.6" cy="664.1" r="6.9"/><circle cx="1460.4" cy="679.2" r="6.9"/><circle cx="1460.2" cy="694.1" r="6.9"/><circle cx="1460.6" cy="700" r="6.9"/><circle cx="1460.5" cy="702.6" r="6.9"/><circle cx="1460.2" cy="705.3" r="6.9"/><circle cx="1460.3" cy="708.8" r="6.9"/><circle cx="1460.9" cy="712.5" r="6.9"/><circle cx="1460.5" cy="715.1" r="6.9"/><circle cx="1460.5" cy="719" r="6.9"/><circle cx="1460.2" cy="721.9" r="6.9"/><circle cx="1460.4" cy="724.2" r="6.9"/><circle cx="1460.4" cy="728" r="6.9"/><circle cx="1460.5" cy="731" r="6.9"/><circle cx="1460.8" cy="734.8" r="6.9"/><circle cx="1461" cy="738.1" r="6.9"/><circle cx="1460.2" cy="741.1" r="6.9"/><circle cx="1460.8" cy="744.6" r="6.9"/><circle cx="1460.2" cy="747.8" r="6.9"/><circle cx="1460.6" cy="751.6" r="6.9"/><circle cx="1460.8" cy="754.3" r="6.9"/><circle cx="1536.4" cy="569.1" r="6.9"/><circle cx="1536.4" cy="579.2" r="6.9"/><circle cx="1536.7" cy="585.6" r="6.9"/><circle cx="1536.3" cy="594.9" r="6.9"/><circle cx="1536.5" cy="603.5" r="6.9"/><circle cx="1536.2" cy="610.7" r="6.9"/><circle cx="1537" cy="618.3" r="6.9"/><circle cx="1536.6" cy="627.9" r="6.9"/><circle cx="1537" cy="635.5" r="6.9"/><circle cx="1536.2" cy="640.3" r="6.9"/><circle cx="1536.5" cy="643.3" r="6.9"/><circle cx="1536.9" cy="645.9" r="6.9"/><circle cx="1536.5" cy="648.4" r="6.9"/><circle cx="1536.4" cy="651.2" r="6.9"/><circle cx="1536.6" cy="654.8" r="6.9"/><circle cx="1536.4" cy="657.2" r="6.9"/><circle cx="1536.4" cy="660.8" r="6.9"/><circle cx="1537" cy="664.3" r="6.9"/><circle cx="1536.4" cy="667.3" r="6.9"/><circle cx="1537" cy="670.1" r="6.9"/><circle cx="1536.4" cy="672.5" r="6.9"/><circle cx="1536.2" cy="676.3" r="6.9"/><circle cx="1536.9" cy="678.6" r="6.9"/><circle cx="1537" cy="682.2" r="6.9"/><circle cx="1536.3" cy="686" r="6.9"/><circle cx="1536.2" cy="689.8" r="6.9"/><circle cx="1536.5" cy="693.1" r="6.9"/><circle cx="1536.2" cy="695.8" r="6.9"/><circle cx="1537" cy="698.4" r="6.9"/><circle cx="1536.4" cy="700.7" r="6.9"/><circle cx="1536.9" cy="703.5" r="6.9"/><circle cx="1536.6" cy="706.3" r="6.9"/><circle cx="1536.4" cy="709.1" r="6.9"/><circle cx="1536.2" cy="711.9" r="6.9"/><circle cx="1536.8" cy="714.7" r="6.9"/><circle cx="1536.3" cy="716.9" r="6.9"/><circle cx="1536.8" cy="720.6" r="6.9"/><circle cx="1536.4" cy="724.4" r="6.9"/><circle cx="1536.4" cy="728.2" r="6.9"/><circle cx="1536.4" cy="731.6" r="6.9"/><circle cx="1536.9" cy="733.7" r="6.9"/><circle cx="1536.2" cy="736.9" r="6.9"/><circle cx="1537" cy="739.4" r="6.9"/><circle cx="1536.4" cy="743.3" r="6.9"/><circle cx="1536.9" cy="746.1" r="6.9"/><circle cx="1536.8" cy="748.6" r="6.9"/><circle cx="1536.7" cy="752.1" r="6.9"/><circle cx="1536.5" cy="754.8" r="6.9"/><circle cx="1610.3" cy="566.8" r="6.9"/><circle cx="1610.8" cy="570.3" r="6.9"/><circle cx="1610.3" cy="573.8" r="6.9"/><circle cx="1610.8" cy="577.6" r="6.9"/><circle cx="1610.6" cy="581.2" r="6.9"/><circle cx="1610.7" cy="584.4" r="6.9"/><circle cx="1610.3" cy="588.1" r="6.9"/><circle cx="1610.1" cy="592.9" r="6.9"/><circle cx="1610.5" cy="595.7" r="6.9"/><circle cx="1610.5" cy="600.5" r="6.9"/><circle cx="1610.1" cy="604.1" r="6.9"/><circle cx="1610.7" cy="607.4" r="6.9"/><circle cx="1610.6" cy="610.3" r="6.9"/><circle cx="1610.1" cy="615.2" r="6.9"/><circle cx="1610.4" cy="620" r="6.9"/><circle cx="1610.3" cy="622.8" r="6.9"/><circle cx="1610.7" cy="627.4" r="6.9"/><circle cx="1610.2" cy="630.4" r="6.9"/><circle cx="1610.7" cy="633.9" r="6.9"/><circle cx="1610.3" cy="636.9" r="6.9"/><circle cx="1610.1" cy="640.7" r="6.9"/><circle cx="1610.7" cy="643.8" r="6.9"/><circle cx="1610.6" cy="646.5" r="6.9"/><circle cx="1610.1" cy="649.1" r="6.9"/><circle cx="1610.5" cy="653" r="6.9"/><circle cx="1610.5" cy="656.2" r="6.9"/><circle cx="1610.4" cy="659.6" r="6.9"/><circle cx="1610.5" cy="663.1" r="6.9"/><circle cx="1610.6" cy="666.7" r="6.9"/><circle cx="1610.1" cy="670.8" r="6.9"/><circle cx="1610.1" cy="674.3" r="6.9"/><circle cx="1610.4" cy="677.7" r="6.9"/><circle cx="1610.5" cy="681.3" r="6.9"/><circle cx="1610.6" cy="683.9" r="6.9"/><circle cx="1610.4" cy="687.4" r="6.9"/><circle cx="1610.1" cy="690.7" r="6.9"/><circle cx="1610.6" cy="694.9" r="6.9"/><circle cx="1610.8" cy="699" r="6.9"/><circle cx="1610.7" cy="702.4" r="6.9"/><circle cx="1610.7" cy="705.2" r="6.9"/><circle cx="1610.6" cy="707.7" r="6.9"/><circle cx="1610.2" cy="710.4" r="6.9"/><circle cx="1610.4" cy="714.4" r="6.9"/><circle cx="1610.2" cy="718.7" r="6.9"/><circle cx="1610" cy="722" r="6.9"/><circle cx="1610.7" cy="724.7" r="6.9"/><circle cx="1610.1" cy="728.4" r="6.9"/><circle cx="1610.4" cy="732.3" r="6.9"/><circle cx="1610.7" cy="735.9" r="6.9"/><circle cx="1610.7" cy="739.3" r="6.9"/><circle cx="1610.5" cy="741.8" r="6.9"/><circle cx="1610.2" cy="744.8" r="6.9"/><circle cx="1610.3" cy="749" r="6.9"/><circle cx="1610.1" cy="752.8" r="6.9"/><circle cx="1681.9" cy="568.8" r="6.9"/><circle cx="1681.9" cy="572.4" r="6.9"/><circle cx="1681.7" cy="576.6" r="6.9"/><circle cx="1681.9" cy="581.7" r="6.9"/><circle cx="1681.5" cy="586.2" r="6.9"/><circle cx="1681.4" cy="590.6" r="6.9"/><circle cx="1681.3" cy="593.9" r="6.9"/><circle cx="1681.2" cy="598.7" r="6.9"/><circle cx="1681.5" cy="601.7" r="6.9"/><circle cx="1681.2" cy="604.8" r="6.9"/><circle cx="1681.8" cy="609.1" r="6.9"/><circle cx="1681.7" cy="613.5" r="6.9"/><circle cx="1681.9" cy="617" r="6.9"/><circle cx="1681.9" cy="621.8" r="6.9"/><circle cx="1681.3" cy="626.5" r="6.9"/><circle cx="1681.2" cy="629.7" r="6.9"/><circle cx="1681.7" cy="634.3" r="6.9"/><circle cx="1681.4" cy="638.8" r="6.9"/><circle cx="1681.8" cy="641.7" r="6.9"/><circle cx="1681.5" cy="644.7" r="6.9"/><circle cx="1681.4" cy="647.4" r="6.9"/><circle cx="1681.5" cy="651.6" r="6.9"/><circle cx="1681.9" cy="656.4" r="6.9"/><circle cx="1681.5" cy="660.4" r="6.9"/><circle cx="1681.5" cy="663.9" r="6.9"/><circle cx="1681.4" cy="668.1" r="6.9"/><circle cx="1681.9" cy="672.6" r="6.9"/><circle cx="1681.4" cy="675.5" r="6.9"/><circle cx="1681.2" cy="679.7" r="6.9"/><circle cx="1681.8" cy="683.3" r="6.9"/><circle cx="1681.5" cy="686.3" r="6.9"/><circle cx="1682" cy="690.6" r="6.9"/><circle cx="1681.8" cy="693.8" r="6.9"/><circle cx="1681.7" cy="697.4" r="6.9"/><circle cx="1681.8" cy="700" r="6.9"/><circle cx="1681.5" cy="704.2" r="6.9"/><circle cx="1681.9" cy="707.6" r="6.9"/><circle cx="1681.2" cy="710.3" r="6.9"/><circle cx="1681.9" cy="713.2" r="6.9"/><circle cx="1681.9" cy="716.7" r="6.9"/><circle cx="1681.6" cy="719.7" r="6.9"/><circle cx="1681.7" cy="723.7" r="6.9"/><circle cx="1681.3" cy="726.9" r="6.9"/><circle cx="1681.8" cy="731.1" r="6.9"/><circle cx="1681.8" cy="733.9" r="6.9"/><circle cx="1681.6" cy="737.5" r="6.9"/><circle cx="1681.4" cy="741.8" r="6.9"/><circle cx="1681.9" cy="744.8" r="6.9"/><circle cx="1681.4" cy="747.5" r="6.9"/><circle cx="1681.3" cy="750.6" r="6.9"/><circle cx="1682" cy="753.7" r="6.9"/><circle cx="1694.3" cy="754" r="6.9"/><circle cx="1694.4" cy="751" r="6.9"/><circle cx="1694.5" cy="748" r="6.9"/><circle cx="1694.6" cy="745" r="6.9"/><circle cx="1694.7" cy="742" r="6.9"/><circle cx="1694.8" cy="739" r="6.9"/><circle cx="1694.9" cy="736" r="6.9"/><circle cx="1695" cy="733" r="6.9"/><circle cx="1695.1" cy="730" r="6.9"/><circle cx="1695.1" cy="727" r="6.9"/><circle cx="1695.2" cy="724" r="6.9"/><circle cx="1695.3" cy="721" r="6.9"/><circle cx="1695.4" cy="718" r="6.9"/><circle cx="1695.5" cy="715" r="6.9"/><circle cx="1695.6" cy="712" r="6.9"/><circle cx="1695.7" cy="709" r="6.9"/><circle cx="1695.8" cy="706" r="6.9"/><circle cx="1695.9" cy="703" r="6.9"/><circle cx="1696" cy="700" r="6.9"/><circle cx="1696.1" cy="697" r="6.9"/><circle cx="1696.2" cy="694" r="6.9"/><circle cx="1696.3" cy="691" r="6.9"/><circle cx="1696.5" cy="688" r="6.9"/><circle cx="1696.6" cy="685" r="6.9"/><circle cx="1696.7" cy="682" r="6.9"/><circle cx="1696.8" cy="679" r="6.9"/><circle cx="1696.9" cy="676" r="6.9"/><circle cx="1697" cy="673" r="6.9"/><circle cx="1697.2" cy="670" r="6.9"/><circle cx="1697.3" cy="667.1" r="6.9"/><circle cx="1697.4" cy="664.1" r="6.9"/><circle cx="1697.5" cy="661.1" r="6.9"/><circle cx="1697.6" cy="658.1" r="6.9"/><circle cx="1697.7" cy="655.1" r="6.9"/><circle cx="1697.8" cy="652.1" r="6.9"/><circle cx="1698" cy="649.1" r="6.9"/><circle cx="1698.1" cy="646.1" r="6.9"/><circle cx="1698.2" cy="643.1" r="6.9"/><circle cx="1698.3" cy="640.1" r="6.9"/><circle cx="1698.4" cy="637.1" r="6.9"/><circle cx="1698.5" cy="634.1" r="6.9"/><circle cx="1698.7" cy="631.1" r="6.9"/><circle cx="1698.8" cy="628.1" r="6.9"/><circle cx="1698.9" cy="625.1" r="6.9"/><circle cx="1699" cy="622.1" r="6.9"/><circle cx="1699.1" cy="619.1" r="6.9"/><circle cx="1699.3" cy="616.1" r="6.9"/><circle cx="1699.4" cy="613.1" r="6.9"/><circle cx="1699.5" cy="610.1" r="6.9"/><circle cx="1699.6" cy="607.1" r="6.9"/><circle cx="1699.8" cy="604.1" r="6.9"/><circle cx="1699.9" cy="601.1" r="6.9"/><circle cx="1700" cy="598.1" r="6.9"/><circle cx="1700.1" cy="595.1" r="6.9"/><circle cx="1700.2" cy="592.1" r="6.9"/><circle cx="1700.4" cy="589.1" r="6.9"/><circle cx="1700.5" cy="586.1" r="6.9"/><circle cx="1700.6" cy="583.1" r="6.9"/><circle cx="1700.7" cy="580.1" r="6.9"/><circle cx="1700.8" cy="577.1" r="6.9"/><circle cx="1701" cy="574.1" r="6.9"/><circle cx="1701.1" cy="571.1" r="6.9"/><circle cx="1701.2" cy="568.1" r="6.9"/></g>
<rect x="1377.4" y="577" width="9.6" height="42" rx="4.8" fill="url(#lg)"/>
<g fill="#90ee90"><circle cx="1301.4" cy="771.2" r="4.2"/><circle cx="1301.4" cy="782.3" r="4.2"/><circle cx="1301.4" cy="792.2" r="4.2"/><circle cx="1382.4" cy="768.5" r="4.2"/></g>
<path d="M1300.1 593V620" stroke="#008000" stroke-width="2.1" fill="none"/>
<path d="M1300.6 623.2V755.2M1382.2 623.2V755.2" stroke="#008000" stroke-width="13" stroke-linecap="round" fill="none"/>
</g>
<g font-size="16.67" letter-spacing="-0.45">
<text transform="translate(615.8 924.2) rotate(-80)">n=1</text>
<text transform="translate(699.8 894.4) rotate(-80)">n=2</text>
<text transform="translate(786.8 868.2) rotate(-80)">n=3</text>
<text transform="translate(875.8 837.2) rotate(-80)">n=4</text>
<text transform="translate(965 808.2) rotate(-80)">n=5</text>
<text transform="translate(1054 775.2) rotate(-80)">n=6</text>
<text transform="translate(1143.1 739.2) rotate(-80)">n=7</text>
<text transform="translate(1228.2 699.2) rotate(-80)">n=8</text>
<text transform="translate(1312.8 647) rotate(-80)">n=9</text>
<text transform="translate(1393.8 580.7) rotate(-80)">n=10</text>
<text transform="translate(1472 496.8) rotate(-80)">n=11</text>
<text transform="translate(1548 368.1) rotate(-80)">n=12</text>
<text transform="translate(1621.8 184.6) rotate(-80)">n=13</text>
</g>
<rect x="250.5" y="144.5" width="1550" height="924" fill="none" stroke="#000" stroke-width="1"/>
<path d="M284 1068V1084.8M578 1068V1084.8M873 1068V1084.8M1168 1068V1084.8M1463 1068V1084.8M1758 1068V1084.8M357 1068V1079.2M431 1068V1079.2M505 1068V1079.2M652 1068V1079.2M726 1068V1079.2M800 1068V1079.2M947 1068V1079.2M1021 1068V1079.2M1094 1068V1079.2M1242 1068V1079.2M1315 1068V1079.2M1389 1068V1079.2M1537 1068V1079.2M1610 1068V1079.2M1684 1068V1079.2M250 1045H238.8M250 997H238.8M250 950H238.8M250 855H238.8M250 808H238.8M250 760H238.8M250 666H238.8M250 618H238.8M250 571H238.8M250 476H238.8M250 428H238.8M250 381H238.8M250 286H238.8M250 239H238.8M250 191H238.8M250 903H233.2M250 713H233.2M250 523H233.2M250 334H233.2M250 144H233.2" stroke="#000" stroke-width="6" fill="none" shape-rendering="crispEdges"/>
<g font-size="34.72" text-anchor="middle" letter-spacing="0.8">
<text x="283.6" y="1117.3">2314.8</text>
<text x="578.4" y="1117.3">2315.0</text>
<text x="873.3" y="1117.3">2315.2</text>
<text x="1168" y="1117.3">2315.4</text>
<text x="1462.9" y="1117.3">2315.6</text>
<text x="1757.7" y="1117.3">2315.8</text>
</g>
<g font-size="34.72" text-anchor="end" letter-spacing="0.8">
<text x="228.5" y="916.9">200</text>
<text x="228.5" y="727.2">400</text>
<text x="228.5" y="536.6">600</text>
<text x="228.5" y="347.9">800</text>
<text x="228.5" y="158.3">1000</text>
</g>
<text x="1025" y="1170.6" font-size="55.56" text-anchor="middle">Age (Myr)</text>
<text transform="translate(118 607) rotate(-90)" font-size="55.56" text-anchor="middle">O1 period (days)</text>
<rect x="263.5" y="157.5" width="534.5" height="290.5" rx="3.5" ry="3.5" fill="#fff" fill-opacity="0.8" stroke="#ccc" stroke-opacity="0.8" stroke-width="1.4"/>
<g fill="none">
<path d="M271.6 177.2H324.2" stroke="#000" stroke-width="2.1"/>
<circle cx="298.2" cy="177.2" r="2.3" fill="#000"/>
<path d="M270.8 214H325.2" stroke="#00f" stroke-width="4.2"/>
<path d="M270.8 250.9H325.2" stroke="#008000" stroke-width="4.2"/>
<path d="M271.6 287.3H324.2" stroke="#ffa500" stroke-width="2.1"/>
<circle cx="298.3" cy="324.6" r="4.4" fill="#90ee90"/>
<path d="M271.6 360H324.2" stroke="#f00" stroke-width="2.1"/>
<use href="#star" x="298.2" y="360"/>
<circle cx="298.3" cy="413.4" r="7.3" fill="#ff0" fill-opacity="0.3"/>
</g>
<g font-size="25">
<text x="342.5" y="186">m1.60_z0.0344_y0.321</text>
<text x="342.5" y="223">peak detector horizontal bounds</text>
<text x="342.5" y="259.6">min. P consistent with observations</text>
<text x="342.5" y="296">max. P must fall within this span</text>
<text x="342.5" y="333">pulse region fit with cubic spline</text>
<text x="342.5" y="368.6">pulses identified</text>
<text x="342.5" y="405">intersection w/ P,L,T,R</text>
<text x="342.5" y="433">loosely defined</text>
</g>
</svg></body></html>
